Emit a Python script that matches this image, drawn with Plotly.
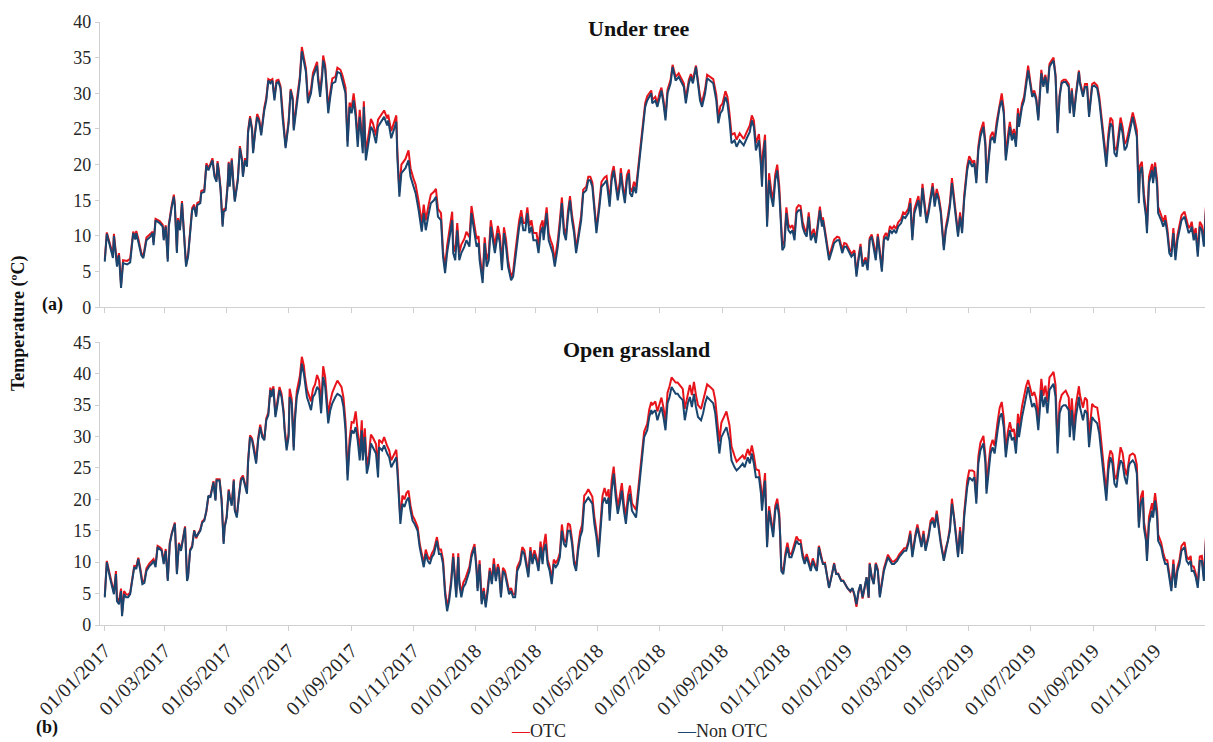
import pandas as pd
import plotly.graph_objects as go

# ---------------- data ----------------
# x positions are days counted from 01/01/2017
DAYS_A = [
    0, 2, 7, 8, 9, 12, 14, 16, 18, 22, 25, 27, 28, 30, 31, 33, 36, 38, 41, 45, 47, 48, 50, 54, 57, 58, 60,
    62, 63, 66, 68, 69, 71, 72, 74, 76, 78, 80, 82, 84, 86, 88, 90, 91, 94, 95, 98, 100, 102, 104, 106, 108, 110,
    111, 112, 114, 116, 117, 119, 121, 122, 123, 125, 127, 128, 131, 133, 135, 136, 138, 140, 141, 143, 145, 146, 148,
    150, 152, 154, 157, 159, 161, 163, 165, 167, 169, 171, 173, 175, 178, 181, 183, 185, 186, 189,
    192, 194, 196, 198, 200, 203, 205, 207, 209, 210, 212, 214, 215, 217, 218, 220, 222, 224, 227, 229, 232, 234, 237,
    239, 241, 243, 245, 247, 249, 251, 254, 255, 257, 260, 262, 264, 267, 269, 273, 275, 278, 279, 282, 284, 287, 288, 290, 292, 296, 299,
    301, 304, 306, 309, 310, 312, 314, 316, 319, 321, 324, 326, 328, 331, 333, 335, 337, 339, 342, 343, 345, 347, 349, 351, 354, 356, 359, 361, 364,
    366, 368, 369, 372, 374, 376, 378, 380, 382, 384, 387, 389, 391, 393, 395, 397, 400, 402, 404, 406,
    408, 410, 412, 414, 416, 418, 420, 422, 425, 427, 429, 431, 432, 435, 437, 439, 441, 443, 446, 448,
    450, 452, 454, 456, 458, 460, 462, 464, 466, 469, 471, 474, 476, 478, 480, 483, 484, 487, 489, 492,
    494, 497, 499, 501, 503, 505, 507, 508, 510, 512, 514, 516, 517, 519, 521, 523, 525, 528,
    530, 532, 534, 536, 538, 539, 542, 544, 546, 548, 550, 552, 554, 557, 559, 560, 562, 565, 567, 570,
    572, 575, 577, 579, 582, 584, 586, 588, 591, 593, 596, 599, 602, 604, 606, 608,
    611, 613, 615, 617, 620, 622, 625, 629, 632, 635, 637, 639, 641, 644, 646, 647, 648, 650, 652, 654,
    656, 658, 660, 662, 664, 665, 667, 669, 671, 673, 675, 677, 679, 681, 683, 685, 687, 689, 691, 693, 695, 698,
    700, 702, 704, 706, 707, 709, 711, 713, 716, 718, 721, 723, 726, 728, 730, 733, 735, 738, 740, 742,
    744, 746, 749, 751, 753, 755, 757, 759,
    761, 763, 765, 767, 769, 771, 773, 775, 777, 779, 781, 784, 786, 788, 791, 793, 795, 797, 799, 801,
    803, 805, 807, 809, 811, 813, 815, 817, 819, 821, 823, 826, 828, 830, 832, 834, 836, 838, 840, 842, 844, 846,
    849, 851, 854, 856, 858, 860, 862, 865, 867, 868, 870, 872, 874, 876, 878, 881, 883, 885, 887, 889,
    891, 893, 895, 897, 899,
    900, 903, 905, 907, 909, 911, 913, 915, 917, 919, 921, 922, 924, 926, 928, 930, 932, 934, 936, 938,
    940, 942, 944, 946, 949, 950, 952, 954, 956, 959, 960, 963, 965, 967, 969, 972, 974, 977, 979,
    982, 984, 986, 988, 990, 992, 994, 996, 998, 1000, 1002, 1004, 1006, 1008, 1009, 1012, 1014, 1016, 1018, 1019,
    1021, 1023, 1025, 1026, 1028, 1031, 1032, 1034, 1036, 1037,
    1040, 1042, 1044, 1046, 1048, 1050, 1052, 1054, 1056, 1058, 1060, 1063, 1065, 1067, 1069, 1070, 1072, 1074, 1076, 1078,
    1080, 1082, 1084, 1087, 1089, 1091,
]

NONOTC_A = [
    6.4, 10.3, 7.5, 6.9, 10.0, 5.7, 7.3, 2.7, 6.2, 6.0, 6.3, 8.5, 10.4, 9.5, 10.4, 9.2, 7.3, 6.9, 9.4, 9.9, 10.4, 8.7, 12.2, 11.8, 11.3, 9.4, 11.3,
    6.4, 11.3, 14.1, 15.5, 14.1, 7.6, 12.2, 10.8, 14.6, 10.8, 5.7, 7.1, 9.9, 13.6, 14.1, 12.7, 14.3, 14.6, 16.0, 16.2, 19.9, 19.2, 19.9, 20.6, 18.3,
    17.6, 20.2, 19.2, 16.4, 11.3, 13.4, 13.6, 17.1, 20.2, 16.9, 20.6, 16.4, 14.8, 17.8, 22.3, 20.6, 18.3, 20.6, 19.7, 24.4, 26.5, 24.8, 21.6, 24.4,
    26.7, 26.0, 24.1, 27.6, 29.0, 31.8, 31.4, 31.8, 29.0, 31.4, 31.6, 30.7, 26.7, 22.3, 25.8, 30.4, 29.0, 24.8, 28.6,
    31.8, 35.9, 34.6, 33.0, 28.6, 30.0, 32.3, 33.0, 33.9, 31.8, 29.5, 32.3, 34.6, 33.4, 31.4, 27.2, 29.5, 31.4, 31.6, 33.0, 32.8, 31.8, 30.0,
    22.5, 28.1, 27.2, 29.0, 26.7, 22.5, 26.7, 21.6, 28.1, 20.6, 23.4, 25.3, 24.8, 23.0, 25.3, 26.2, 26.7, 25.5, 26.2, 23.7, 24.6, 26.0, 21.1, 15.5, 18.8, 19.5, 20.6,
    18.3, 16.9, 16.0, 13.6, 12.7, 10.6, 13.2, 10.8, 13.2, 14.6, 15.0, 15.5, 12.7, 12.2, 7.1, 4.8, 7.6, 9.4, 12.2, 7.6, 6.6, 10.8, 6.6, 7.6, 8.5, 9.4, 8.5, 13.2, 10.4,
    8.5, 9.0, 6.6, 3.4, 9.0, 5.7, 6.6, 11.3, 9.4, 7.6, 10.4, 9.0, 5.2, 10.4, 8.5, 5.7, 3.8, 4.3, 6.6, 9.4,
    11.3, 12.7, 10.8, 10.8, 13.2, 10.4, 11.3, 9.4, 9.4, 7.6, 10.4, 11.3, 9.4, 13.2, 9.4, 8.5, 7.6, 5.7, 8.5, 11.3,
    14.6, 10.4, 9.4, 12.7, 15.0, 12.2, 10.4, 7.6, 9.4, 12.2, 16.0, 16.4, 17.8, 17.8, 16.9, 12.2, 10.4, 14.1, 16.9, 17.4,
    17.8, 14.1, 17.8, 19.2, 16.9, 15.0, 16.9, 18.8, 16.4, 14.6, 17.8, 18.8, 16.0, 15.5, 16.9, 16.0, 18.8, 22.5,
    25.3, 28.1, 29.0, 29.5, 30.0, 28.6, 29.0, 28.1, 29.5, 30.4, 28.6, 26.2, 30.0, 31.4, 33.7, 33.0, 31.8, 32.3, 31.8, 30.9,
    28.6, 31.4, 32.3, 31.4, 33.7, 30.9, 29.0, 28.1, 30.0, 32.1, 31.8, 31.4, 29.0, 25.8, 27.2, 27.6,
    29.5, 28.6, 26.2, 23.0, 23.4, 22.5, 23.4, 22.7, 23.7, 24.6, 26.2, 25.3, 22.0, 23.4, 19.7, 16.9, 20.6, 23.4, 11.3, 17.8,
    15.5, 14.1, 17.8, 19.2, 16.0, 13.6, 8.0, 8.5, 13.2, 10.8, 10.4, 10.8, 9.4, 13.2, 13.6, 13.6, 11.3, 10.4, 9.9, 12.7, 9.4, 10.4,
    9.0, 11.3, 13.6, 11.3, 12.2, 10.4, 8.5, 6.6, 8.0, 9.0, 9.4, 9.4, 7.6, 8.5, 8.5, 7.6, 7.1, 7.6, 4.3, 6.6,
    8.5, 5.7, 6.6, 5.2, 9.4, 9.9, 8.5, 6.6,
    9.9, 7.6, 5.0, 9.4, 9.9, 9.4, 10.8, 10.4, 10.8, 10.4, 11.3, 11.8, 12.7, 12.5, 13.2, 14.6, 9.4, 13.2, 14.1, 15.0,
    12.7, 16.7, 14.1, 11.8, 13.2, 15.0, 16.9, 14.1, 16.0, 15.0, 13.2, 8.0, 10.8, 12.2, 14.1, 17.4, 15.0, 12.2, 9.9, 12.7, 10.4, 15.0,
    19.2, 20.6, 19.7, 20.2, 17.4, 22.0, 23.9, 25.3, 22.5, 17.4, 20.6, 23.4, 23.9, 23.0, 25.3, 28.1, 29.0, 27.2, 20.6, 23.4,
    25.3, 23.4, 24.4, 22.5, 27.2,
    25.3, 28.1, 29.0, 31.4, 33.2, 31.4, 29.5, 30.0, 29.0, 26.2, 30.0, 32.8, 30.9, 32.3, 30.0, 33.7, 34.2, 34.6, 32.3, 24.4,
    29.5, 31.4, 31.6, 31.6, 30.9, 27.2, 30.4, 26.7, 29.5, 33.0, 31.4, 29.5, 30.9, 30.9, 26.7, 30.9, 31.1, 30.7, 29.0,
    24.8, 22.5, 19.7, 23.4, 25.8, 25.3, 21.6, 21.1, 23.4, 25.8, 24.4, 22.0, 22.5, 23.9, 24.4, 26.7, 25.3, 23.9, 14.6, 18.8,
    19.7, 15.0, 12.7, 10.4, 17.4, 19.2, 17.4, 19.7, 16.9, 13.2,
    12.2, 11.3, 12.2, 10.4, 7.6, 7.1, 10.4, 6.6, 9.4, 10.8, 12.2, 12.7, 11.3, 10.4, 10.8, 11.3, 9.4, 10.4, 7.1, 11.3,
    10.8, 8.5, 13.6, 12.2, 12.2, 11.8,
]

OTC_A = [
    6.7, 10.5, 7.9, 7.4, 10.3, 6.2, 7.6, 3.2, 6.6, 6.5, 6.8, 8.9, 10.6, 9.9, 10.7, 9.6, 7.6, 7.2, 9.8, 10.3, 10.6, 9.1, 12.4, 12.1, 11.6, 9.8, 11.5,
    6.8, 11.6, 14.4, 15.8, 14.4, 7.9, 12.5, 11.1, 14.9, 11.1, 6.0, 7.4, 10.2, 13.9, 14.4, 13.0, 14.6, 14.9, 16.3, 16.5, 20.2, 19.5, 20.1, 20.9, 18.6,
    17.9, 20.5, 19.5, 16.7, 11.6, 13.7, 13.9, 17.4, 20.4, 17.2, 20.9, 16.7, 15.1, 18.1, 22.6, 20.9, 18.6, 20.9, 20.0, 24.7, 26.8, 25.1, 21.9, 24.7,
    27.1, 26.4, 24.5, 28.0, 29.4, 32.0, 31.8, 32.0, 29.4, 31.8, 31.9, 31.0, 27.1, 22.6, 26.2, 30.6, 29.4, 25.2, 29.0,
    32.3, 36.5, 35.2, 33.5, 29.2, 30.6, 32.9, 33.6, 34.4, 32.4, 30.2, 33.0, 35.3, 33.9, 32.0, 27.9, 30.2, 32.1, 32.3, 33.6, 33.3, 32.5, 30.8,
    23.3, 28.7, 28.0, 30.0, 27.6, 23.5, 27.7, 22.4, 28.9, 21.6, 24.5, 26.4, 25.8, 24.1, 26.3, 27.2, 27.6, 26.5, 27.0, 24.7, 25.6, 26.9, 22.0, 16.2, 20.0, 20.8, 22.0,
    19.5, 18.0, 17.2, 14.8, 13.8, 11.8, 14.4, 12.2, 14.5, 15.8, 16.2, 16.6, 13.8, 13.2, 7.8, 5.6, 8.6, 10.6, 13.4, 8.8, 7.8, 11.8, 7.6, 8.8, 9.6, 10.6, 9.8, 14.2, 11.6,
    9.6, 10.0, 7.6, 4.0, 9.8, 6.6, 7.6, 12.2, 10.4, 8.6, 11.4, 10.0, 6.0, 11.2, 9.5, 6.6, 4.2, 5.0, 7.6, 10.4,
    12.2, 13.6, 11.8, 11.8, 14.0, 11.4, 12.2, 10.4, 10.4, 8.6, 11.4, 12.2, 10.4, 14.0, 10.4, 9.4, 8.6, 6.5, 9.4, 12.2,
    15.4, 11.2, 10.1, 13.5, 15.6, 12.9, 11.1, 8.2, 10.1, 12.9, 16.5, 16.9, 18.3, 18.3, 17.5, 12.9, 11.0, 14.8, 17.6, 18.2,
    18.4, 14.9, 18.6, 19.8, 17.6, 15.7, 17.6, 19.5, 17.1, 15.3, 18.5, 19.3, 16.8, 16.2, 17.6, 16.8, 19.4, 23.0,
    25.8, 28.6, 29.6, 30.0, 30.4, 29.1, 29.5, 28.6, 30.0, 30.8, 29.1, 26.7, 30.5, 31.9, 34.0, 33.4, 32.3, 32.8, 32.3, 31.4,
    29.2, 31.9, 32.7, 31.9, 33.9, 31.4, 29.6, 28.7, 30.6, 32.6, 32.3, 32.0, 29.8, 26.6, 28.2, 28.5,
    30.3, 29.5, 27.2, 24.2, 24.4, 23.5, 24.4, 23.6, 24.6, 25.5, 26.9, 26.2, 23.0, 24.3, 20.8, 17.8, 21.8, 24.2, 12.0, 18.8,
    16.5, 15.0, 18.6, 20.0, 17.0, 14.4, 8.6, 9.3, 14.0, 11.6, 11.2, 11.5, 10.2, 13.9, 14.3, 14.2, 12.0, 11.0, 10.5, 13.3, 10.0, 11.0,
    9.5, 11.8, 14.1, 11.8, 12.6, 10.8, 9.0, 7.1, 8.5, 9.5, 9.9, 9.8, 8.1, 9.0, 8.9, 8.1, 7.5, 8.0, 4.7, 7.0,
    8.9, 6.1, 7.0, 5.6, 9.7, 10.2, 8.9, 7.0,
    10.3, 8.0, 5.5, 9.9, 10.4, 9.9, 11.4, 11.0, 11.4, 11.0, 11.9, 12.4, 13.3, 13.1, 13.8, 15.3, 9.9, 13.8, 14.7, 15.6,
    13.2, 17.3, 14.7, 12.3, 13.8, 15.6, 17.4, 14.7, 16.6, 15.5, 13.7, 8.5, 11.3, 12.8, 14.7, 18.1, 15.6, 12.7, 10.4, 13.3, 10.9, 15.6,
    19.8, 21.2, 20.3, 20.6, 18.0, 22.6, 24.6, 26.0, 23.1, 17.9, 21.2, 24.0, 24.6, 23.6, 26.0, 28.8, 30.0, 27.8, 21.2, 24.0,
    26.0, 24.0, 25.0, 23.2, 27.9,
    25.8, 28.6, 29.5, 31.9, 33.9, 31.8, 29.9, 30.4, 29.4, 26.6, 30.4, 33.3, 31.3, 32.6, 30.4, 34.1, 34.6, 35.0, 32.6, 24.8,
    29.8, 31.7, 31.9, 31.9, 31.3, 27.6, 30.7, 27.1, 29.9, 33.2, 31.7, 29.9, 31.3, 31.3, 27.2, 31.3, 31.5, 31.1, 29.6,
    25.6, 23.4, 20.6, 24.3, 26.6, 26.2, 22.5, 22.0, 24.3, 26.6, 25.3, 22.9, 23.4, 24.8, 25.3, 27.3, 26.2, 24.8, 15.4, 19.8,
    20.4, 15.9, 13.6, 11.2, 18.3, 20.1, 18.3, 20.3, 17.8, 14.1,
    12.9, 12.0, 12.9, 11.1, 8.2, 7.8, 11.1, 7.2, 10.1, 11.5, 12.9, 13.4, 12.0, 11.1, 11.5, 12.0, 10.1, 11.1, 7.8, 12.0,
    11.5, 9.2, 14.0, 12.9, 12.8, 12.5,
]

DAYS_B = [
    0, 2, 5, 7, 9, 11, 12, 14, 16, 17, 19, 21, 23, 25, 27, 29, 31, 33, 35, 37, 39, 41, 44, 46, 48, 50, 52, 54, 56, 58, 60,
    62, 64, 66, 68, 69, 71, 73, 75, 77, 79, 81, 82, 84, 86, 88, 90, 92, 94, 96, 98,
    100, 102, 104, 106, 107, 109, 110, 112, 113, 115, 117, 118, 120, 122, 123, 125, 127, 128, 130, 132, 134, 136, 138, 140,
    141, 143, 145, 147, 149, 151, 153, 155, 157, 159, 161, 163, 164, 166, 168, 170, 172, 174, 176, 177, 179, 181, 182, 184, 186, 187, 189,
    192, 194, 196, 197, 199, 201, 203, 205, 207, 209, 211, 213, 215, 217, 219, 220, 222, 224, 227, 229, 231, 233, 235, 237,
    239, 241, 243, 245, 247, 249, 251, 253, 254, 256, 258, 260, 262, 264, 267, 269,
    270, 273, 275, 278, 280, 282, 284, 287, 288, 291, 293, 295, 297, 299,
    301, 303, 305, 308, 310, 312, 314, 316, 318, 320, 322, 324, 327, 329, 331, 333, 335, 337, 339, 341,
    343, 345, 346, 348, 349, 351, 353, 355, 357, 359, 361, 364,
    366, 367, 369, 371, 373, 375, 377, 379, 381, 383, 385, 387, 388, 390, 392, 394, 396, 398, 400, 402,
    404, 406, 409, 411, 413, 415, 417, 419, 421, 423, 425, 427, 429, 431, 432, 434, 436, 438, 440, 442, 444, 446, 448,
    450, 452, 454, 456, 458, 460, 462, 464, 466, 468, 470,
    472, 474, 476, 478, 480, 482, 484, 486, 488, 490, 492, 494, 496, 497, 499, 501, 503, 505, 507, 509,
    511, 513, 515, 517, 519, 521, 523, 525, 527, 529, 531, 534, 536, 538, 539, 542, 544, 546, 548, 550, 552,
    554, 556, 558, 560, 562, 564, 566, 569, 571, 574, 576, 578, 580, 582, 584, 587, 589, 591, 593, 596, 599, 601, 603, 605,
    607, 610, 612, 615, 617, 620, 622, 625,
    628, 630, 633, 635, 637, 639, 641, 644, 646, 647, 649, 650,
    652, 654, 656, 658, 660, 662, 664, 665, 666, 668, 670, 672, 674, 676, 678, 681, 683, 685, 687, 689, 691, 693, 695, 697, 699,
    701, 703, 705, 707, 709, 711, 713, 716, 718, 720, 722, 725, 727, 729, 731, 734, 736, 738, 740, 742,
    744, 746, 748, 750, 752, 753, 755, 757, 759,
    761, 763, 765, 767, 769, 771, 773, 775, 777, 780, 782, 785, 787, 789, 791, 793, 795, 798, 800, 802,
    804, 806, 808, 811, 813, 815, 817, 819, 821, 823, 826, 828, 830, 832, 834, 836, 838, 840, 842, 844, 846,
    849, 851, 854, 856, 858, 860, 862, 865, 867, 868, 870, 872, 874, 876, 879, 881, 883, 885, 887, 889,
    891, 893, 895, 897, 899,
    900, 903, 905, 907, 909, 911, 913, 915, 917, 919, 921, 922, 924, 926, 928, 930, 932, 934, 936, 938,
    940, 942, 944, 946, 949, 950, 952, 954, 956, 959, 960, 963, 965, 967, 969, 972, 974, 977, 979,
    982, 984, 986, 988, 990, 992, 994, 996, 998, 1000, 1002, 1004, 1006, 1008, 1009, 1012, 1014, 1016,
    1018, 1020, 1022, 1023, 1025, 1026, 1028, 1031, 1032, 1034, 1036, 1037,
    1040, 1042, 1044, 1046, 1049, 1050, 1052, 1054, 1056, 1058, 1060, 1063, 1065, 1067, 1069, 1070, 1072, 1074, 1076, 1078,
    1080, 1082, 1084, 1087, 1089, 1091,
]

NONOTC_B = [
    4.4, 10.0, 7.6, 6.0, 4.9, 8.1, 3.8, 3.3, 5.4, 1.4, 4.9, 4.4, 4.4, 4.9, 7.0, 9.2, 8.9, 10.5, 8.6, 6.5, 6.7, 8.6, 9.4, 9.7, 10.2, 9.2, 12.4, 12.1, 11.8, 9.7, 11.8,
    7.0, 12.9, 14.5, 15.5, 16.1, 8.1, 12.9, 11.8, 14.0, 15.5, 7.0, 7.6, 11.8, 12.4, 15.0, 14.0, 14.5, 15.0, 16.3, 16.6,
    18.2, 20.6, 20.3, 21.9, 22.7, 19.8, 23.0, 23.0, 23.0, 19.8, 12.9, 15.5, 17.1, 21.4, 20.3, 19.0, 23.0, 18.2, 17.1, 20.3, 23.0, 23.5, 22.4, 20.9,
    25.7, 29.9, 29.4, 27.8, 25.7, 29.4, 31.5, 29.9, 29.4, 32.6, 33.4, 37.4, 36.3, 37.6, 33.1, 35.1, 37.4, 36.3, 33.7, 31.0, 27.8, 30.0, 36.3, 35.3, 27.8, 32.1, 36.3,
    38.4, 41.6, 40.0, 38.4, 36.3, 35.3, 34.2, 36.3, 36.8, 37.9, 37.4, 33.7, 39.5, 37.9, 34.2, 32.1, 34.2, 35.3, 36.3, 36.8, 36.6, 36.3, 34.7, 31.0,
    23.0, 28.3, 31.0, 30.5, 31.5, 29.4, 26.2, 31.0, 26.2, 29.9, 24.1, 25.7, 28.9, 28.3, 27.3, 23.5,
    28.3, 27.8, 28.6, 27.3, 26.7, 25.1, 25.7, 26.7, 24.6, 16.1, 19.3, 18.8, 19.8, 20.3,
    18.2, 16.6, 16.1, 15.0, 12.4, 10.8, 9.2, 11.3, 10.2, 9.7, 10.8, 11.3, 13.4, 11.3, 11.3, 9.7, 4.9, 2.2, 3.8, 6.5,
    10.8, 6.5, 4.4, 10.8, 6.5, 4.4, 6.0, 6.5, 7.6, 8.6, 10.8, 12.4,
    8.6, 5.4, 9.7, 3.3, 5.4, 2.8, 5.4, 8.6, 6.5, 9.7, 7.0, 9.2, 8.6, 4.4, 8.6, 8.1, 6.5, 4.9, 5.4, 4.4,
    4.4, 8.6, 9.7, 11.8, 11.3, 9.7, 7.6, 11.8, 9.7, 11.3, 10.2, 8.6, 12.4, 9.7, 11.8, 12.9, 9.7, 8.6, 6.5, 9.7, 9.2, 9.7, 10.8,
    15.0, 12.9, 12.4, 15.0, 15.0, 12.9, 9.7, 8.6, 11.8, 14.0, 15.0,
    19.3, 19.8, 20.3, 19.8, 19.3, 16.1, 14.0, 10.8, 15.0, 19.3, 20.3, 19.3, 20.3, 16.6, 21.4, 24.1, 20.3, 17.7, 19.3, 21.4,
    18.2, 16.1, 19.3, 20.9, 18.2, 17.7, 17.1, 20.3, 23.5, 26.7, 29.9, 31.0, 33.1, 34.2, 33.7, 34.2, 32.6, 33.7, 34.7, 33.1, 31.0,
    35.3, 36.3, 37.9, 37.3, 36.8, 36.8, 36.3, 35.8, 32.6, 35.3, 36.3, 34.7, 36.8, 34.7, 33.1, 32.6, 33.7, 35.3, 36.3, 35.8, 35.3, 33.7, 30.5, 27.3,
    29.9, 31.0, 31.5, 29.4, 26.2, 25.1, 24.6, 25.1,
    25.7, 25.1, 26.7, 25.7, 27.3, 25.7, 23.5, 23.5, 20.9, 18.2, 21.9, 23.0,
    12.4, 18.2, 16.1, 14.0, 18.2, 19.3, 17.1, 14.0, 8.6, 8.1, 10.8, 12.4, 10.8, 10.8, 11.8, 13.4, 12.9, 12.9, 10.8, 9.7, 10.8, 9.7, 8.6, 10.2, 9.2,
    8.6, 12.4, 10.8, 9.7, 9.7, 8.1, 5.9, 8.1, 9.7, 8.1, 8.1, 7.0, 7.0, 6.5, 5.9, 5.4, 5.9, 4.9, 3.3, 5.4,
    6.5, 4.4, 5.9, 7.6, 4.4, 9.7, 7.6, 6.5, 9.7,
    8.6, 4.4, 6.5, 8.6, 9.7, 10.8, 10.2, 9.7, 9.7, 10.2, 10.8, 11.3, 11.8, 11.8, 12.9, 14.5, 10.8, 14.0, 15.5, 14.0,
    12.4, 14.5, 11.8, 14.0, 16.1, 16.6, 15.5, 17.7, 15.0, 12.9, 10.2, 11.8, 12.9, 15.0, 19.3, 17.1, 14.0, 10.8, 15.0, 11.3, 17.1,
    21.9, 23.5, 23.0, 23.5, 19.3, 25.7, 27.8, 28.9, 25.7, 20.9, 24.6, 27.3, 28.3, 27.3, 31.0, 33.1, 33.7, 31.5, 26.7, 29.4,
    31.0, 29.4, 29.9, 27.3, 32.1,
    29.9, 33.1, 34.7, 36.3, 37.9, 36.3, 34.7, 35.3, 34.2, 31.0, 35.3, 37.4, 34.7, 36.3, 33.7, 37.4, 37.9, 38.4, 36.3, 27.3,
    33.7, 34.7, 35.0, 35.0, 34.2, 29.9, 34.2, 29.4, 33.1, 36.3, 34.7, 32.6, 34.2, 33.7, 28.3, 33.1, 32.6, 32.1, 30.5,
    25.7, 23.0, 19.8, 24.6, 26.7, 25.7, 22.5, 21.9, 24.6, 26.2, 25.7, 23.5, 22.4, 25.1, 25.7, 26.2, 25.7, 24.1,
    15.5, 19.3, 20.3, 15.5, 13.4, 10.2, 16.1, 18.2, 17.1, 19.8, 17.1, 13.4,
    12.4, 10.8, 9.7, 9.7, 6.5, 5.4, 9.7, 5.9, 8.6, 9.7, 11.8, 12.4, 10.2, 9.7, 10.2, 8.6, 8.6, 7.6, 5.9, 10.2,
    10.2, 7.0, 13.4, 10.2, 9.7, 9.7,
]

OTC_B = [
    4.7, 10.2, 8.0, 6.5, 5.2, 8.6, 4.3, 3.8, 5.8, 1.9, 5.4, 4.9, 4.8, 5.2, 7.3, 9.4, 9.3, 10.7, 9.0, 6.9, 7.1, 9.0, 9.8, 10.1, 10.5, 9.6, 12.6, 12.4, 12.1, 10.1, 12.1,
    7.3, 13.1, 14.7, 15.6, 16.3, 8.4, 13.1, 12.0, 14.2, 15.7, 7.3, 7.9, 12.0, 12.6, 15.1, 13.8, 14.6, 15.2, 16.5, 16.8,
    18.0, 20.4, 20.6, 22.1, 22.9, 20.0, 23.2, 23.2, 23.2, 20.1, 13.2, 15.7, 17.3, 21.6, 20.5, 19.3, 23.2, 18.4, 17.4, 20.5, 23.3, 23.8, 22.7, 21.2,
    26.0, 30.2, 29.7, 28.2, 26.1, 29.8, 31.9, 30.3, 29.5, 32.9, 33.8, 37.8, 36.7, 38.0, 33.5, 35.6, 37.9, 36.8, 34.2, 31.5, 28.4, 30.6, 37.6, 36.0, 28.3, 32.9, 37.2,
    39.6, 42.7, 41.3, 39.6, 37.5, 36.4, 35.6, 37.6, 38.3, 39.8, 38.9, 35.0, 41.2, 39.4, 35.6, 33.4, 35.6, 37.0, 38.2, 38.9, 38.4, 37.9, 36.2, 32.3,
    24.0, 29.6, 32.3, 32.2, 34.0, 31.0, 27.6, 32.6, 27.5, 31.3, 25.3, 27.0, 30.3, 29.8, 28.8, 24.7,
    29.5, 29.0, 29.9, 28.5, 27.8, 26.2, 26.8, 27.9, 25.6, 16.8, 20.6, 20.0, 21.0, 21.4,
    19.0, 17.4, 16.8, 15.6, 13.0, 11.5, 9.8, 12.0, 10.9, 10.4, 11.4, 12.0, 14.0, 12.0, 12.0, 10.4, 5.6, 2.8, 4.5, 7.2,
    11.4, 7.2, 5.0, 11.4, 7.2, 5.0, 6.8, 7.4, 8.4, 9.3, 11.4, 12.9,
    9.2, 5.9, 10.3, 3.8, 5.9, 3.3, 5.9, 9.1, 7.0, 10.6, 7.6, 9.7, 9.1, 4.9, 9.1, 8.6, 7.0, 5.4, 5.9, 4.9,
    4.9, 9.2, 10.3, 12.4, 11.9, 10.3, 8.2, 12.4, 10.3, 11.9, 10.8, 9.2, 13.3, 10.4, 12.6, 14.5, 10.4, 9.3, 7.2, 10.4, 9.9, 10.4, 11.5,
    16.0, 13.6, 13.1, 16.2, 15.9, 13.6, 10.3, 9.2, 12.5, 14.9, 16.0,
    20.6, 21.0, 21.6, 21.0, 20.4, 17.2, 15.0, 11.6, 16.2, 20.6, 21.8, 20.5, 21.6, 17.7, 23.0, 25.2, 21.6, 18.8, 20.5, 22.6,
    19.4, 17.2, 20.6, 22.2, 19.4, 18.9, 18.3, 21.4, 24.6, 27.6, 30.8, 32.0, 34.3, 35.5, 35.0, 35.6, 34.0, 35.1, 36.2, 34.6, 32.4,
    37.0, 38.0, 39.4, 39.0, 38.6, 38.6, 38.2, 37.6, 34.4, 37.0, 38.2, 36.6, 38.7, 36.6, 35.0, 34.4, 35.6, 37.2, 38.3, 37.9, 37.4, 35.8, 32.6, 29.2,
    32.2, 33.4, 34.0, 31.8, 28.4, 26.9, 26.0, 26.5,
    27.0, 26.4, 28.0, 27.0, 28.6, 27.0, 24.8, 24.6, 22.0, 19.2, 23.0, 24.2,
    13.0, 18.9, 16.8, 14.6, 18.9, 20.1, 17.8, 14.6, 9.2, 8.6, 11.4, 13.1, 11.4, 11.3, 12.4, 14.1, 13.5, 13.5, 11.4, 10.2, 11.3, 10.2, 9.1, 10.6, 9.6,
    8.8, 12.6, 11.0, 9.8, 9.9, 8.2, 6.0, 8.2, 9.9, 8.2, 8.2, 7.1, 7.1, 6.5, 5.9, 5.3, 5.8, 4.7, 2.9, 5.2,
    6.4, 4.2, 5.8, 7.6, 4.3, 9.9, 7.7, 6.6, 9.9,
    8.9, 4.7, 6.9, 9.0, 10.1, 11.2, 10.6, 10.1, 10.1, 10.6, 11.2, 11.7, 12.2, 12.2, 13.3, 15.0, 11.2, 14.4, 16.0, 14.4,
    12.8, 15.0, 12.2, 14.4, 16.6, 17.1, 16.0, 18.2, 15.5, 13.3, 10.5, 12.3, 13.4, 15.6, 20.1, 17.7, 14.5, 11.2, 15.6, 11.7, 17.8,
    22.9, 24.6, 24.6, 24.4, 20.2, 26.8, 29.0, 30.1, 26.8, 21.7, 25.6, 28.4, 29.5, 28.5, 32.4, 34.6, 35.5, 33.0, 27.8, 30.7,
    32.3, 30.8, 31.2, 28.6, 33.6,
    31.4, 34.8, 36.4, 38.0, 39.0, 37.9, 36.5, 37.1, 36.0, 32.6, 37.1, 39.2, 36.5, 38.1, 35.5, 39.4, 39.8, 40.3, 38.2, 28.6,
    35.4, 36.6, 37.0, 37.3, 36.2, 31.6, 36.1, 31.2, 35.0, 38.0, 36.6, 34.6, 36.2, 35.8, 30.0, 35.2, 34.8, 34.6, 32.5,
    27.2, 24.4, 21.0, 26.0, 27.8, 27.2, 23.9, 23.2, 26.1, 28.3, 27.4, 25.0, 23.8, 26.6, 27.0, 27.3, 27.0, 25.5,
    16.4, 20.4, 21.4, 16.5, 14.4, 11.0, 17.2, 19.4, 18.2, 21.0, 18.2, 14.4,
    13.1, 11.5, 10.4, 10.3, 7.0, 5.9, 10.4, 6.4, 9.2, 10.4, 12.6, 13.2, 11.0, 10.4, 11.0, 9.4, 9.3, 8.2, 6.4, 10.9,
    11.0, 7.6, 13.9, 11.0, 10.7, 10.8,
]

SERIES_NAMES = ["OTC", "Non OTC"]
PANEL_TITLES = ["Under tree", "Open grassland"]
PANEL_TAGS = ["(a)", "(b)"]
Y_TITLE = "Temperature (ºC)"
START = "2017-01-01"

# ---------------- styling ----------------
RED = "#E8141B"
BLUE = "#1A456F"
AXIS_GREY = "#D0D0D0"
TEXT = "#262626"
FONT = '"Liberation Serif", "Times New Roman", serif'

start = pd.Timestamp(START)


def to_dates(days):
    return [start + pd.Timedelta(days=int(d)) for d in days]


xa = to_dates(DAYS_A)
xb = to_dates(DAYS_B)

fig = go.Figure()
fig.add_trace(go.Scatter(x=xa, y=OTC_A, mode="lines", name=SERIES_NAMES[0],
                         line=dict(color=RED, width=2), xaxis="x", yaxis="y", showlegend=False))
fig.add_trace(go.Scatter(x=xa, y=NONOTC_A, mode="lines", name=SERIES_NAMES[1],
                         line=dict(color=BLUE, width=2), xaxis="x", yaxis="y", showlegend=False))
fig.add_trace(go.Scatter(x=xb, y=OTC_B, mode="lines", name=SERIES_NAMES[0],
                         line=dict(color=RED, width=2), xaxis="x2", yaxis="y2", showlegend=False))
fig.add_trace(go.Scatter(x=xb, y=NONOTC_B, mode="lines", name=SERIES_NAMES[1],
                         line=dict(color=BLUE, width=2), xaxis="x2", yaxis="y2", showlegend=False))

xrange_ = ["2016-12-27 07:00:00", "2019-12-28 00:00:00"]
common_x = dict(type="date", range=xrange_, showgrid=False, zeroline=False,
                showline=True, linecolor=AXIS_GREY, linewidth=1.3,
                ticks="outside", ticklen=5, tickcolor=AXIS_GREY, tickwidth=1.3,
                tick0=START, dtick="M2")
common_y = dict(showgrid=False, zeroline=False, showline=True, linecolor=AXIS_GREY,
                linewidth=1.3, ticks="outside", ticklen=4, tickcolor=AXIS_GREY,
                tickwidth=1.3, dtick=5, tickfont=dict(family=FONT, size=18, color=TEXT))

# the page is drawn with an 8 px body margin, so the figure is made 8 px smaller
fig.update_layout(
    width=1205, height=734,
    margin=dict(l=92, r=0, t=14, b=117),
    paper_bgcolor="white", plot_bgcolor="white",
    showlegend=False,
    font=dict(family=FONT, color=TEXT),
    xaxis=dict(**common_x, anchor="y", domain=[0, 1], showticklabels=False),
    xaxis2=dict(**common_x, anchor="y2", domain=[0, 1], matches="x",
                showticklabels=True, tickformat="%d/%m/%Y", tickangle=-45,
                tickfont=dict(family=FONT, size=20, color=TEXT)),
    yaxis=dict(**common_y, anchor="x", domain=[0.5269, 1], range=[0, 40]),
    yaxis2=dict(**common_y, anchor="x2", domain=[0, 0.4688], range=[0, 45]),
)

ann = [
    dict(text="<b>" + PANEL_TITLES[0] + "</b>", x=0.4834, y=0.990, xanchor="center", yanchor="middle",
         font=dict(family=FONT, size=22, color="#111")),
    dict(text="<b>" + PANEL_TITLES[1] + "</b>", x=0.482, y=0.4577, xanchor="center", yanchor="middle",
         font=dict(family=FONT, size=22, color="#111")),
    dict(text="<b>" + Y_TITLE + "</b>", x=-0.0737, y=0.5008, xanchor="center", yanchor="middle",
         textangle=-90, font=dict(family=FONT, size=18, color="#111")),
    dict(text="<b>" + PANEL_TAGS[0] + "</b>", x=-0.0431, y=0.5307, xanchor="center", yanchor="middle",
         font=dict(family=FONT, size=18, color="#111")),
    dict(text="<b>" + PANEL_TAGS[1] + "</b>", x=-0.0472, y=-0.1700, xanchor="center", yanchor="middle",
         font=dict(family=FONT, size=18, color="#111")),
    dict(text="<span style='color:%s'>—</span>%s" % (RED, SERIES_NAMES[0]), x=0.3675, y=-0.1755,
         xanchor="left", yanchor="middle", font=dict(family=FONT, size=18, color=TEXT)),
    dict(text="<span style='color:%s'>—</span>%s" % (BLUE, SERIES_NAMES[1]), x=0.5166, y=-0.1755,
         xanchor="left", yanchor="middle", font=dict(family=FONT, size=18, color=TEXT)),
]
for a in ann:
    a.update(xref="paper", yref="paper", showarrow=False)
fig.update_layout(annotations=ann)

fig.write_html("out.html")
